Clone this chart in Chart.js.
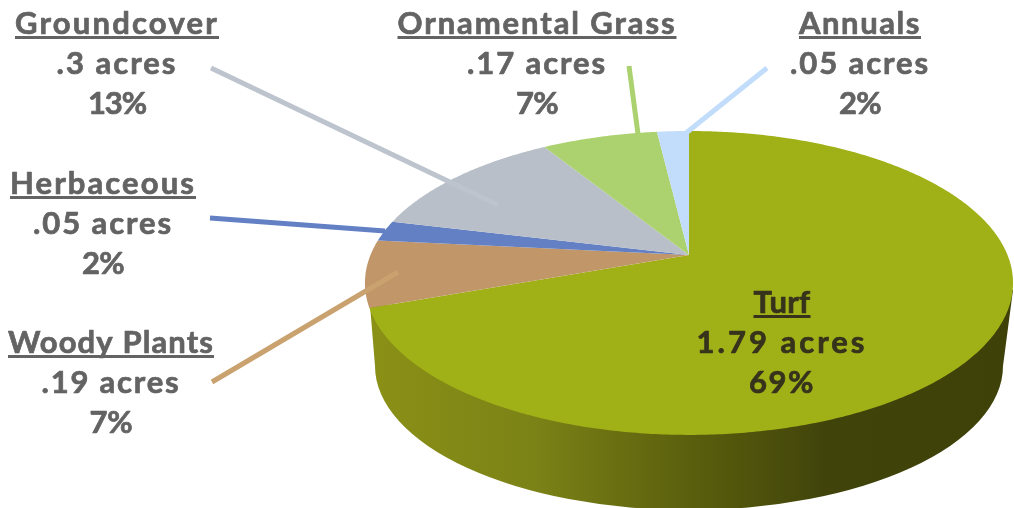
<!DOCTYPE html>
<html>
<head>
<meta charset="utf-8">
<style>
	html, body { margin: 0; padding: 0; background: #fff; }
	canvas { display: block; }
</style>
<script src="https://cdn.jsdelivr.net/npm/chart.js@4"></script>
</head>
<body>
<canvas id="chart" width="1014" height="508"></canvas>
<script>
const categories = ['Turf', 'Woody Plants', 'Herbaceous', 'Groundcover', 'Ornamental Grass', 'Annuals']
const sliceShare = [69.5, 7.1, 2.2, 12.4, 6.9, 1.9]
const acres = ['1.79', '.19', '.05', '.3', '.17', '.05']
const percents = ['69%', '7%', '2%', '13%', '7%', '2%']
const sliceColors = ['#a0b118', '#c19669', '#6380c4', '#b9bfc9', '#acd270', '#c2dcfb']
const leaderColors = [null, '#c9a26f', '#6380c4', '#bdc4ce', '#acd270', '#c2dcfb']

// where each label sits: centre x, first baseline
const labelPos = [[782, 313], [111, 353], [103, 194], [117, 34], [537, 34], [860, 34]]
// widths the three lines of each label should end up with
const nameWidths = [57, 206, 186, 204, 279, 122]
const acreWidths = [171, 139, 140, 121, 140, 140]
const pctWidths = [66, 43, 42, 58, 42, 42]
// leader lines, from label into the slice (no leader on Turf)
const leaders = [null, [212, 382, 398, 272], [210, 218, 385, 231], [211, 68, 498, 205], [629, 66, 638, 134], [767, 68, 686, 133]]

// perspective of the tilted disc
const cx = 689, cy = 255, R = 318.5, A = 146.8, K = -0.184
const project = (a) => {
	const u = Math.cos(a), v = Math.sin(a), w = 1 + K * v
	return [cx + R * u / w, cy + A * v / w]
}

const pie3d = {
	id: 'pie3d',
	beforeDatasetsDraw(chart) {
		const ctx = chart.ctx
		const grad = ctx.createLinearGradient(370, 0, 1010, 0)
		grad.addColorStop(0, '#8b9016')
		grad.addColorStop(0.25, '#7c8316')
		grad.addColorStop(0.5, '#5a5f0d')
		grad.addColorStop(0.72, '#40430a')
		grad.addColorStop(1, '#3f4208')
		ctx.save()
		ctx.fillStyle = grad
		ctx.beginPath()
		ctx.moveTo(370, 305)
		ctx.lineTo(375, 366)
		ctx.ellipse(689, 366, 314, 144, 0, Math.PI, 0, true)
		ctx.lineTo(1013, 290)
		ctx.closePath()
		ctx.fill()
		ctx.restore()
	},
	beforeDatasetDraw(chart, args) {
		const ctx = chart.ctx
		ctx.save()
		args.meta.data.forEach((arc, i) => {
			ctx.beginPath()
			ctx.moveTo(cx, cy)
			const steps = Math.ceil((arc.endAngle - arc.startAngle) / 0.01)
			for (let s = 0; s <= steps; s++) {
				const p = project(arc.startAngle + (arc.endAngle - arc.startAngle) * s / steps)
				ctx.lineTo(p[0], p[1])
			}
			ctx.closePath()
			ctx.fillStyle = sliceColors[i]
			ctx.fill()
		})
		ctx.restore()
		return false
	},
	afterDatasetsDraw(chart) {
		const ctx = chart.ctx
		ctx.save()
		ctx.lineWidth = 5
		leaders.forEach((l, i) => {
			if (!l) return
			ctx.strokeStyle = leaderColors[i]
			ctx.beginPath()
			ctx.moveTo(l[0], l[1])
			ctx.lineTo(l[2], l[3])
			ctx.stroke()
		})
		ctx.font = 'bold 31px Lato'
		ctx.textAlign = 'left'
		ctx.lineWidth = 0.7
		ctx.lineJoin = 'round'
		categories.forEach((name, i) => {
			const x = labelPos[i][0], y = labelPos[i][1]
			ctx.fillStyle = ctx.strokeStyle = i === 0 ? '#35331c' : '#636363'
			const lines = [name, acres[i] + ' acres', percents[i]]
			const widths = [nameWidths[i], acreWidths[i], pctWidths[i]]
			lines.forEach((line, n) => {
				// stretch the line to its width with letter spacing
				ctx.letterSpacing = '0px'
				const natural = ctx.measureText(line).width
				ctx.letterSpacing = (widths[n] - natural) / line.length + 'px'
				const left = x - widths[n] / 2
				ctx.fillText(line, left, y + n * 40)
				ctx.strokeText(line, left, y + n * 40)
				if (n === 0) ctx.fillRect(left, y + 2, widths[n], 3)
			})
		})
		ctx.restore()
	}
}

new Chart(document.getElementById('chart'), {
	type: 'pie',
	data: {
		labels: categories,
		datasets: [{ data: sliceShare, backgroundColor: sliceColors, borderWidth: 0 }]
	},
	options: {
		responsive: false,
		animation: false,
		events: [],
		plugins: { legend: { display: false }, tooltip: { enabled: false } }
	},
	plugins: [pie3d]
})
</script>
</body>
</html>
